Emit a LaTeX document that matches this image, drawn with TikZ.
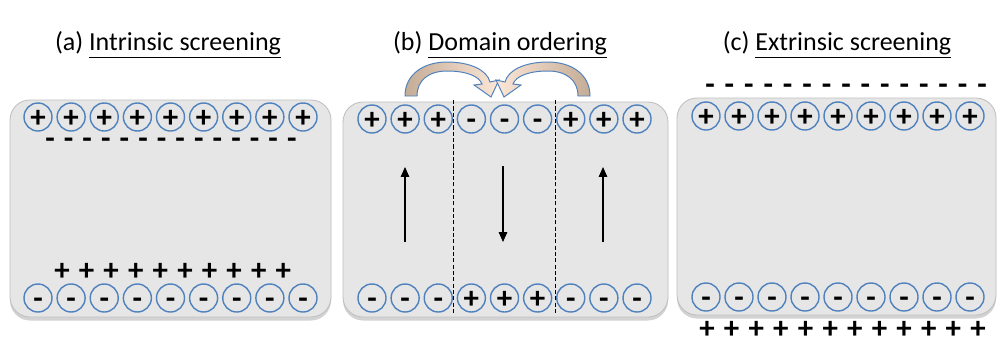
\documentclass[tikz,border=0pt]{standalone}
\usepackage{fontspec}
\setmainfont{Carlito}
\usetikzlibrary{arrows.meta,shadows}
\definecolor{ionblue}{RGB}{79,129,189}
\definecolor{slabgray}{RGB}{230,230,230}
\definecolor{slabedge}{RGB}{191,191,191}
\definecolor{swaptan}{RGB}{196,172,150}
\definecolor{swaplight}{RGB}{252,230,214}
\newcommand{\signfont}{\fontsize{22}{22}\selectfont\bfseries}
\tikzset{
  slab/.style={rounded corners=0.5cm, fill=slabgray, draw=slabedge, line width=0.6pt,
    drop shadow={shadow xshift=0pt, shadow yshift=-2.5pt, opacity=0.35}},
  ion/.style={circle, draw=ionblue, line width=1pt, minimum size=0.7cm, inner sep=0pt,
    font=\signfont, text height=14.5pt, text depth=0pt},
  negq/.style={anchor=base, inner sep=0pt, font=\signfont, yshift=-6.2pt},
  posq/.style={anchor=base, inner sep=0pt, font=\signfont, yshift=-7.3pt},
  title/.style={font=\fontsize{18.5}{22}\selectfont},
  polar/.style={line width=0.8pt, -{Triangle[width=6pt,length=7pt]}},
  wall/.style={line width=0.5pt, dash pattern=on 3pt off 1.5pt},
  swap/.style={draw=ionblue, line width=0.7pt},
}
\begin{document}
\begin{tikzpicture}[x=0.025cm, y=-0.025cm]
\useasboundingbox (0,0) rectangle (998,343);
% slabs
\draw[slab] (10,100) rectangle (331,317);
\draw[slab] (343,102) rectangle (668,317);
\draw[slab] (677,98) rectangle (996,315);
% titles
\node[title] (title-a) at (168,45) {(a) \underline{Intrinsic screening}};
\node[title] (title-b) at (500,45) {(b) \underline{Domain ordering}};
\node[title] (title-c) at (837,45) {(c) \underline{Extrinsic screening}};
% (a) intrinsic screening
\foreach \i in {1,...,9} {
  \node[ion] (a-top-\i) at ({38+33.125*(\i-1)},117) {+};
  \node[ion] (a-bot-\i) at ({38+33.125*(\i-1)},298) {-};
}
\foreach \i in {1,...,14} \node[negq] (a-scr-\i) at ({50+18.6*(\i-1)},140) {-};
\foreach \i in {1,...,10} \node[posq] (a-comp-\i) at ({62+24.6*(\i-1)},270) {+};
% (b) domain ordering
\foreach \i/\up/\dn in {1/+/-,2/+/-,3/+/-,4/-/+,5/-/+,6/-/+,7/+/-,8/+/-,9/+/-} {
  \node[ion] (b-top-\i) at ({372+33.125*(\i-1)},119) {\up};
  \node[ion] (b-bot-\i) at ({372+33.125*(\i-1)},298) {\dn};
}
\draw[wall] (453,100) -- (453,314);
\draw[wall] (555,100) -- (555,314);
\coordinate (pol-1a) at (405,242); \coordinate (pol-1b) at (405,167);
\coordinate (pol-2a) at (503,166); \coordinate (pol-2b) at (503,242);
\coordinate (pol-3a) at (603,242); \coordinate (pol-3b) at (603,167);
\foreach \k in {1,2,3} \draw[polar] (pol-\k a) -- (pol-\k b);
% curved swap arrows
\draw[swap, left color=swaptan, right color=swaplight] (405,96) .. controls (405,74) and (424,62) .. (447,62)
  .. controls (470,62) and (487,70) .. (490,82) -- (499,80) -- (491,97) -- (474,85) -- (482,84)
  .. controls (479,76) and (466,71) .. (447,71) .. controls (429,71) and (417,80) .. (417,96) -- cycle;
\draw[swap, left color=swaplight, right color=swaptan] (590,96) .. controls (590,74) and (571,62) .. (548,62)
  .. controls (525,62) and (508,70) .. (505,82) -- (496,80) -- (504,97) -- (521,85) -- (513,84)
  .. controls (516,76) and (529,71) .. (548,71) .. controls (566,71) and (578,80) .. (578,96) -- cycle;
% (c) extrinsic screening
\foreach \i in {1,...,9} {
  \node[ion] (c-top-\i) at ({706+33*(\i-1)},116) {+};
  \node[ion] (c-bot-\i) at ({706+33*(\i-1)},297) {-};
}
\foreach \i in {1,...,15} \node[negq] (c-scr-\i) at ({710+19.43*(\i-1)},86) {-};
\foreach \i in {1,...,12} \node[posq] (c-comp-\i) at ({707+24.64*(\i-1)},328) {+};
\end{tikzpicture}
\end{document}
